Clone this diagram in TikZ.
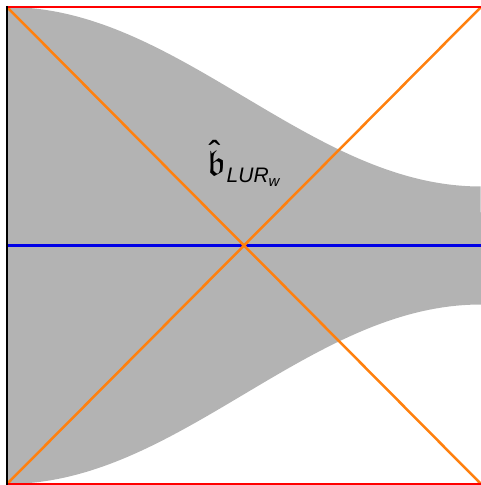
\documentclass[tikz,border=0pt]{standalone}
\usepackage{amssymb}
\usepackage{fontspec}
\setmainfont{Liberation Sans}
\definecolor{regiongray}{RGB}{179,179,179}
\definecolor{diagorange}{RGB}{255,128,14}
\definecolor{axisblue}{RGB}{0,0,230}
\begin{document}
\begin{tikzpicture}[x=1pt,y=-1pt,
  edge/.style={line width=2.5pt},
  diag/.style={line width=2.5pt,draw=diagorange}]
\useasboundingbox (0,0) rectangle (481,485);
\coordinate (TL) at (7,7);
\coordinate (TR) at (481,7);
\coordinate (BL) at (7,484);
\coordinate (BR) at (481,484);
\coordinate (ML) at (7,245.5);
\coordinate (MR) at (481,245.5);
\fill[regiongray]
  plot[domain=0:1,samples=80,smooth] ({7+474*\x},{245.5-(148.75+89.75*cos(180*\x))})
  -- plot[domain=1:0,samples=80,smooth] ({7+474*\x},{245.5+(148.75+89.75*cos(180*\x))})
  -- cycle;
\draw[line width=3pt,draw=axisblue] (ML) -- (MR);
\draw[diag] (TL) -- (BR);
\draw[diag] (BL) -- (TR);
\draw[edge,red] (TL) -- (TR);
\draw[edge,red] (BL) -- (BR);
\draw[edge,black] (7,5.75) -- (7,485);
\node[anchor=base west,inner sep=0pt] (lbl) at (207,175)
  {\fontsize{36}{40}\selectfont\makebox[0pt][l]{\makebox[15pt][c]{\raisebox{9pt}{ˆ}}}$\mathfrak{b}$\hspace{1pt}\raisebox{-7pt}{\fontsize{21}{21}\selectfont\itshape LUR\raisebox{-4pt}{\fontsize{15}{15}\selectfont w}}};
\end{tikzpicture}
\end{document}
